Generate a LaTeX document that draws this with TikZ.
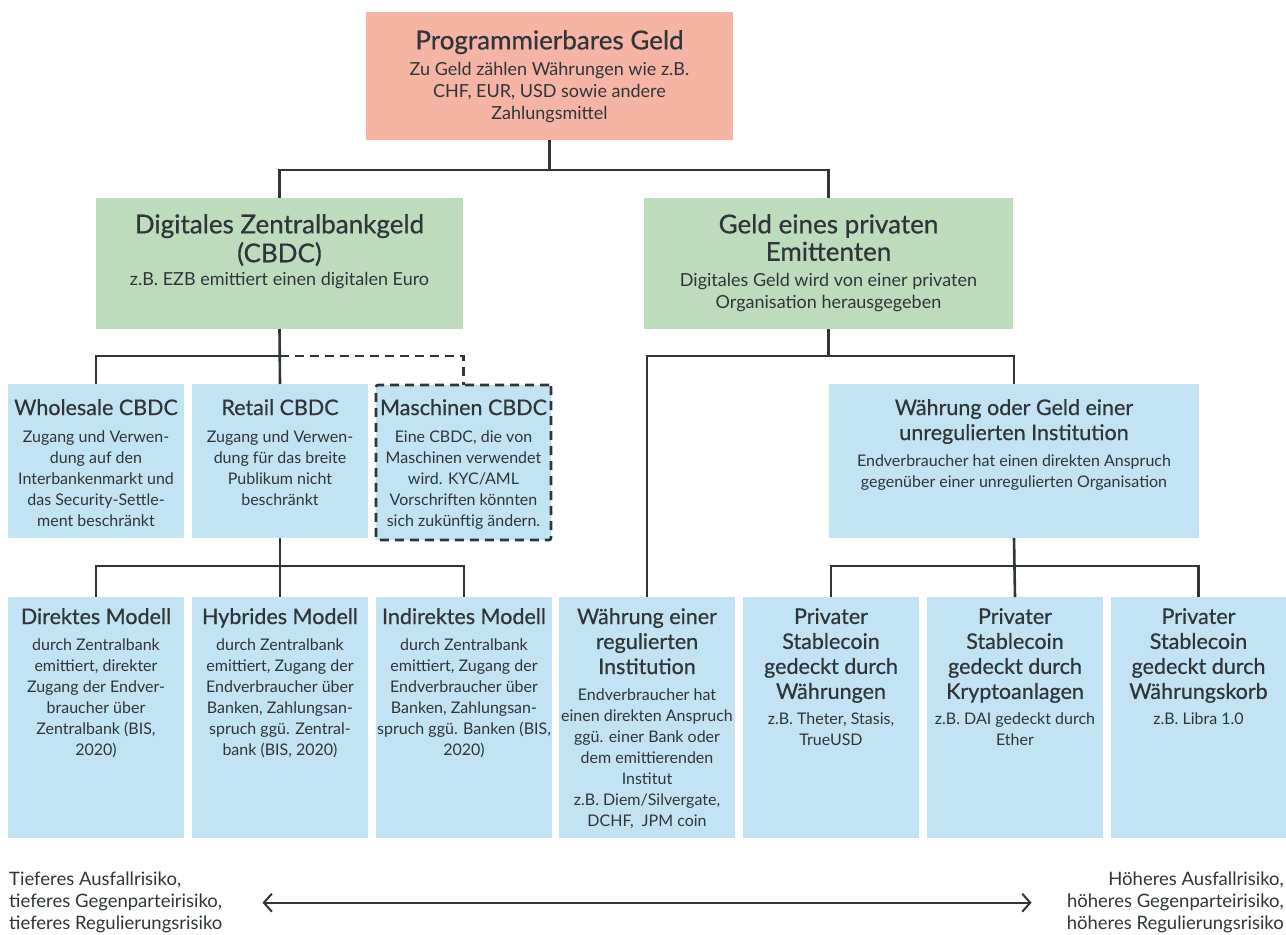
\documentclass[tikz,border=0pt]{standalone}
\usepackage{fontspec}
\setmainfont{Lato}
\newfontfamily\headfont{Lato}[FakeBold=0.6]
\usetikzlibrary{arrows.meta}

\definecolor{salmon}{HTML}{F5B4A4}
\definecolor{mint}{HTML}{BDDCBC}
\definecolor{sky}{HTML}{C2E3F3}
\definecolor{ink}{HTML}{2F3639}

\newcommand{\hbig}{\headfont\fontsize{26}{28}\selectfont}
\newcommand{\hmid}{\headfont\fontsize{26}{25}\selectfont}
\newcommand{\hsml}{\headfont\fontsize{21.5}{25}\selectfont}

\tikzset{
  box/.style={anchor=north west, inner sep=0pt, outer sep=0pt},
  progbox/.style={box, fill=salmon, minimum width=367, minimum height=128},
  grbox/.style={box, fill=mint, minimum width=367, minimum height=131},
  blbox/.style={box, fill=sky, minimum width=176, minimum height=154},
  colbox/.style={box, fill=sky, minimum width=176, minimum height=241},
  txt/.style={anchor=north, align=center, inner sep=0pt, text=ink,
    font=\fontsize{16}{21}\selectfont},
  bigtxt/.style={txt, font=\fontsize{18}{22}\selectfont},
  link/.style={draw=ink, line width=2.6pt},
  maybe/.style={link, dash pattern=on 9pt off 6pt},
  risk/.style={inner sep=0pt, text=ink, font=\fontsize{18.5}{22}\selectfont},
  riskarrow/.style={draw=ink, line width=2pt,
    {Straight Barb[length=8pt,width=18pt]}-{Straight Barb[length=8pt,width=18pt]}}
}

\begin{document}
\begin{tikzpicture}[x=1pt,y=-1pt]
\useasboundingbox (0,0) rectangle (1286,935);

% top
\node[progbox] (prog) at (366,12) {};
\node[bigtxt] at ([yshift=-18]prog.north)
  {{\hbig Programmierbares Geld}\\[4pt] Zu Geld zählen Währungen wie z.B.\\
   CHF, EUR, USD sowie andere\\ Zahlungsmittel};

% second level
\node[grbox] (cbdc) at (96,198) {};
\node[bigtxt] at ([yshift=-16]cbdc.north)
  {{\hmid Digitales Zentralbankgeld}\\[3pt] {\hmid (CBDC)}\\[1pt]
   z.B. EZB emittiert einen digitalen Euro};
\node[grbox, minimum width=369] (priv) at (644,198) {};
\node[bigtxt] at ([yshift=-16]priv.north)
  {{\hmid Geld eines privaten}\\[3pt] {\hmid Emittenten}\\[4pt]
   Digitales Geld wird von einer privaten\\ Organisation herausgegeben};

% CBDC types
\node[blbox] (wh) at (8,384) {};
\node[txt] at ([yshift=-15]wh.north)
  {{\hsml Wholesale CBDC}\\[6pt] Zugang und Verwen-\\ dung auf den\\
   Interbankenmarkt und\\ das Security-Settle-\\ ment beschränkt};
\node[blbox] (ret) at (192,384) {};
\node[txt] at ([yshift=-15]ret.north)
  {{\hsml Retail CBDC}\\[6pt] Zugang und Verwen-\\ dung für das breite\\
   Publikum nicht\\ beschränkt};
\node[blbox, minimum width=175, minimum height=155, draw=ink,
  dash pattern=on 9pt off 6pt, line width=2.6pt, rounded corners=2pt] (mas) at (376,385) {};
\node[txt] at ([yshift=-14]mas.north)
  {{\hsml Maschinen CBDC}\\[6pt] Eine CBDC, die von\\ Maschinen verwendet\\
   wird. KYC/AML\\ Vorschriften könnten\\ sich zukünftig ändern.};

% unregulated
\node[blbox, minimum width=370] (unreg) at (829,384) {};
\node[txt] at ([yshift=-15]unreg.north)
  {{\hsml Währung oder Geld einer}\\[4pt] {\hsml unregulierten Institution}\\[5pt]
   Endverbraucher hat einen direkten Anspruch\\ gegenüber einer unregulierten Organisation};

% retail models
\node[colbox] (dir) at (8,597) {};
\node[txt] at ([yshift=-11]dir.north)
  {{\hsml Direktes Modell}\\[5pt] durch Zentralbank\\ emittiert, direkter\\
   Zugang der Endver-\\ braucher über\\ Zentralbank (BIS,\\ 2020)};
\node[colbox] (hyb) at (192,597) {};
\node[txt] at ([yshift=-11]hyb.north)
  {{\hsml Hybrides Modell}\\[5pt] durch Zentralbank\\ emittiert, Zugang der\\
   Endverbraucher über\\ Banken, Zahlungsan-\\ spruch ggü. Zentral-\\ bank (BIS, 2020)};
\node[colbox] (ind) at (376,597) {};
\node[txt] at ([yshift=-11]ind.north)
  {{\hsml Indirektes Modell}\\[5pt] durch Zentralbank\\ emittiert, Zugang der\\
   Endverbraucher über\\ Banken, Zahlungsan-\\ spruch ggü. Banken (BIS,\\ 2020)};

% private columns
\node[colbox] (reg) at (559,597) {};
\node[txt] at ([yshift=-11]reg.north)
  {{\hsml Währung einer}\\[4pt] {\hsml regulierten}\\[4pt] {\hsml Institution}\\[5pt]
   Endverbraucher hat\\ einen direkten Anspruch\\ ggü. einer Bank oder\\
   dem emittierenden\\ Institut\\ z.B. Diem/Silvergate,\\ DCHF,\ \ JPM coin};
\node[colbox] (sc1) at (743,597) {};
\node[txt] at ([yshift=-11]sc1.north)
  {{\hsml Privater}\\[4pt] {\hsml Stablecoin}\\[4pt] {\hsml gedeckt durch}\\[4pt]
   {\hsml Währungen}\\[5pt] z.B. Theter, Stasis,\\ TrueUSD};
\node[colbox] (sc2) at (927,597) {};
\node[txt] at ([yshift=-11]sc2.north)
  {{\hsml Privater}\\[4pt] {\hsml Stablecoin}\\[4pt] {\hsml gedeckt durch}\\[4pt]
   {\hsml Kryptoanlagen}\\[5pt] z.B. DAI gedeckt durch\\ Ether};
\node[colbox, minimum width=175] (sc3) at (1111,597) {};
\node[txt] at ([yshift=-11]sc3.north)
  {{\hsml Privater}\\[4pt] {\hsml Stablecoin}\\[4pt] {\hsml gedeckt durch}\\[4pt]
   {\hsml Währungskorb}\\[5pt] z.B. Libra 1.0};

% connectors
\coordinate (j0) at ([yshift=-30]prog.south);
\draw[link] (prog.south) -- (j0);
\draw[link] (cbdc.north) |- (j0) -| (priv.north);

\coordinate (j1) at ([yshift=-27]cbdc.south);
\draw[link] (cbdc.south) -- (ret.north);
\draw[link] (wh.north) |- (j1);
\draw[maybe] (j1) -| (mas.north);

\coordinate (j2) at ([yshift=-28]ret.south);
\draw[link] (ret.south) -- (hyb.north);
\draw[link] (dir.north) |- (j2) -| (ind.north);

\coordinate (j3) at ([yshift=-27]priv.south);
\draw[link] (priv.south) -- (j3);
\draw[link] (reg.north) |- (j3) -| (unreg.north);

\coordinate (j4) at ([yshift=-28]unreg.south);
\draw[link] (unreg.south) -- (sc2.north);
\draw[link] (sc1.north) |- (j4) -| (sc3.north);

% risk scale
\node[risk, anchor=north west, align=left] (lowrisk) at (9,872)
  {Tieferes Ausfallrisiko,\\ tieferes Gegenparteirisiko,\\ tieferes Regulierungsrisiko};
\node[risk, anchor=north east, align=right] (highrisk) at (1284,872)
  {Höheres Ausfallrisiko,\\ höheres Gegenparteirisiko,\\ höheres Regulierungsrisiko};
\draw[riskarrow] ([xshift=40pt]lowrisk.east) -- ([xshift=-35pt]highrisk.west);
\end{tikzpicture}
\end{document}
